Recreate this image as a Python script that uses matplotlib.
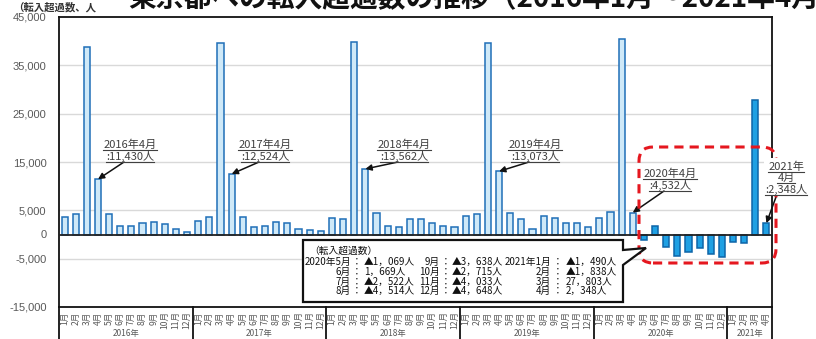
import matplotlib
matplotlib.use("Agg")
import matplotlib.pyplot as plt
from matplotlib.patches import FancyBboxPatch, Polygon, Rectangle
from matplotlib.lines import Line2D
from matplotlib.transforms import IdentityTransform, blended_transform_factory

plt.rcParams["font.family"] = ["Noto Sans CJK JP", "DejaVu Sans"]

# Net in-migration to Tokyo, monthly, Jan 2016 - Apr 2021
years = ["2016年", "2017年", "2018年", "2019年", "2020年", "2021年"]
months_per_year = [12, 12, 12, 12, 12, 4]
month_names = [f"{m}月" for m in range(1, 13)]

net_2016 = [3540, 4170, 38700, 11430, 4290, 1800, 1800, 2420, 2630, 2150, 1180, 620]
net_2017 = [2840, 3670, 39600, 12524, 3540, 1530, 1740, 2640, 2290, 1180, 900, 690]
net_2018 = [3330, 3190, 39900, 13562, 4510, 1800, 1600, 3260, 3130, 2430, 1800, 1530]
net_2019 = [3820, 4300, 39700, 13073, 4510, 3190, 1180, 3750, 3330, 2330, 2290, 1460]
net_2020 = [3330, 4580, 40400, 4532, -1069, 1669, -2522, -4514, -3638, -2715, -4033, -4648]
net_2021 = [-1490, -1838, 27803, 2348]

values = net_2016 + net_2017 + net_2018 + net_2019 + net_2020 + net_2021
labels = [month_names[i] for n in months_per_year for i in range(n)]
highlight_start = 52  # May 2020 onward

yticks = [45000, 35000, 25000, 15000, 5000, 0, -5000, -15000]
ytick_labels = ["45,000", "35,000", "25,000", "15,000", "5,000", "0", "-5,000", "-15,000"]

W, H = 816, 339
fig = plt.figure(figsize=(W / 100, H / 100), dpi=100)


def fx(px):
    return px / W


def fy(py):
    return 1 - py / H


L, R, T, B = 59, 772, 17, 307
ax = fig.add_axes([fx(L), fy(B), fx(R) - fx(L), fy(T) - fy(B)])

x = list(range(len(values)))
face = ["#cfe9f8" if i < highlight_start else "#1fa0e3" for i in x]
edge = ["#1f6fb8" if i < highlight_start else "#0d65a8" for i in x]
ax.bar(x, values, width=0.55, color=face, edgecolor=edge, linewidth=1.1, zorder=3)

ax.set_xlim(-0.5, len(values) - 0.5)
ax.set_ylim(-15000, 45000)
ax.set_yticks(yticks)
ax.set_yticklabels(ytick_labels, family=["Liberation Sans"], fontsize=8, color="#595959")
ax.tick_params(axis="y", length=0, pad=9)
for v in yticks:
    if v not in (0, 45000, -15000):
        ax.axhline(v, color="#d9d9d9", lw=1, zorder=1)
ax.axhline(0, color="#222222", lw=1.3, zorder=4)

ax.set_xticks(x)
ax.set_xticklabels(labels, rotation=90, fontsize=6.2, color="#595959")
ax.tick_params(axis="x", length=0, pad=3)

for s in ax.spines.values():
    s.set_color("#111111")
    s.set_linewidth(1.3)

# year separators and year names under the month labels
trans = blended_transform_factory(ax.transData, ax.transAxes)
below = -(H - B + 2) / (B - T)
pos = -0.5
bounds = [pos]
for n in months_per_year:
    pos += n
    bounds.append(pos)
for b in bounds:
    ax.add_line(Line2D([b, b], [0, below], transform=trans, color="#111111",
                       lw=1.3, clip_on=False))
for i, yname in enumerate(years):
    cx = (bounds[i] + bounds[i + 1]) / 2
    ax.text(cx, -(333.5 - B) / (B - T), yname, transform=trans, ha="center",
            va="center", fontsize=6, color="#595959")

# title (running off the top edge) and unit label
fig.text(fx(128), fy(6), "東京都への転入超過数の推移（2016年1月～2021年4月）",
         fontsize=20, fontweight="bold", color="#111111", ha="left", va="baseline")
fig.text(fx(13), fy(7), "（転入超過数、人", fontsize=7.5, color="#333333",
         ha="left", va="center", fontweight="bold")

renderer = fig.canvas.get_renderer()


def underlined(lines, cx, top, step, size=8):
    objs = []
    for k, s in enumerate(lines):
        t = fig.text(fx(cx), fy(top + k * step), s, fontsize=size, color="#404040",
                     ha="center", va="center", zorder=10)
        objs.append(t)
    for t in objs:
        bb = t.get_window_extent(renderer)
        fig.add_artist(Line2D([bb.x0, bb.x1], [bb.y0, bb.y0], transform=IdentityTransform(),
                              color="#404040", lw=0.8, zorder=11))


def arrow(idx, sx, sy):
    ax.annotate("", xy=(idx, values[idx]), xycoords="data",
                xytext=(fx(sx), fy(sy)), textcoords="figure fraction",
                arrowprops=dict(arrowstyle="-|>", color="#111111", lw=1.1,
                                mutation_scale=9, shrinkA=0, shrinkB=0), zorder=12)


# callouts for each April
april = [3, 15, 27, 39, 51]
callout_cx = [130, 265, 404, 535, 670]
for idx, cx in zip(april, callout_cx):
    yr = 2016 + idx // 12
    v = values[idx]
    top = 145 if idx != 51 else 174
    underlined([f"{yr}年4月", f":{v:,}人"], cx, top, 11)
    arrow(idx, cx - 6, top + 17)

# red dashed frame around the recent months
red = FancyBboxPatch((639, H - 263), 776 - 639, 263 - 147,
                     boxstyle="round,pad=0,rounding_size=14",
                     transform=IdentityTransform(), fill=False, edgecolor="#e5171f",
                     lw=2.2, linestyle=(0, (3, 2)), zorder=9)
fig.add_artist(red)

# April 2021 callout on a white patch over the frame
fig.add_artist(Rectangle((764, H - 196), 44, 38, transform=IdentityTransform(),
                         facecolor="white", edgecolor="none", zorder=9.5))
underlined(["2021年", "4月", f":{values[63]:,}人"], 786, 167, 11)
arrow(63, 776, 197)

# note box with the recent monthly values
box = [(303, 240), (623, 240), (623, 250), (646, 248), (623, 265), (623, 302), (303, 302)]
note = Polygon([(px, H - py) for px, py in box], closed=True, transform=IdentityTransform(),
               facecolor="white", edgecolor="#111111", lw=1.6, zorder=12)
fig.add_artist(note)


def fmt(v):
    s = f"{abs(v):,}".replace(",", "，")
    return ("▲" if v < 0 else "") + s + "人"


note_months = [
    ["2020年5月", "6月", "7月", "8月"],
    ["9月", "10月", "11月", "12月"],
    ["2021年1月", "2月", "3月", "4月"],
]
note_vals = [values[52:56], values[56:60], values[60:64]]
col_label_r = [351, 440, 551]
col_colon = [357, 446, 558]
col_val_l = [364, 452, 566]
row_y = [262, 272, 282, 291]
nkw = dict(fontsize=7, color="#111111", va="center", zorder=13)
fig.text(fx(309), fy(251), "（転入超過数）", ha="left", **nkw)
for c in range(3):
    for r in range(4):
        fig.text(fx(col_label_r[c]), fy(row_y[r]), note_months[c][r], ha="right", **nkw)
        fig.text(fx(col_colon[c]), fy(row_y[r]), "：", ha="center", **nkw)
        fig.text(fx(col_val_l[c]), fy(row_y[r]), fmt(note_vals[c][r]), ha="left", **nkw)

fig.savefig("out.png", dpi=100)
